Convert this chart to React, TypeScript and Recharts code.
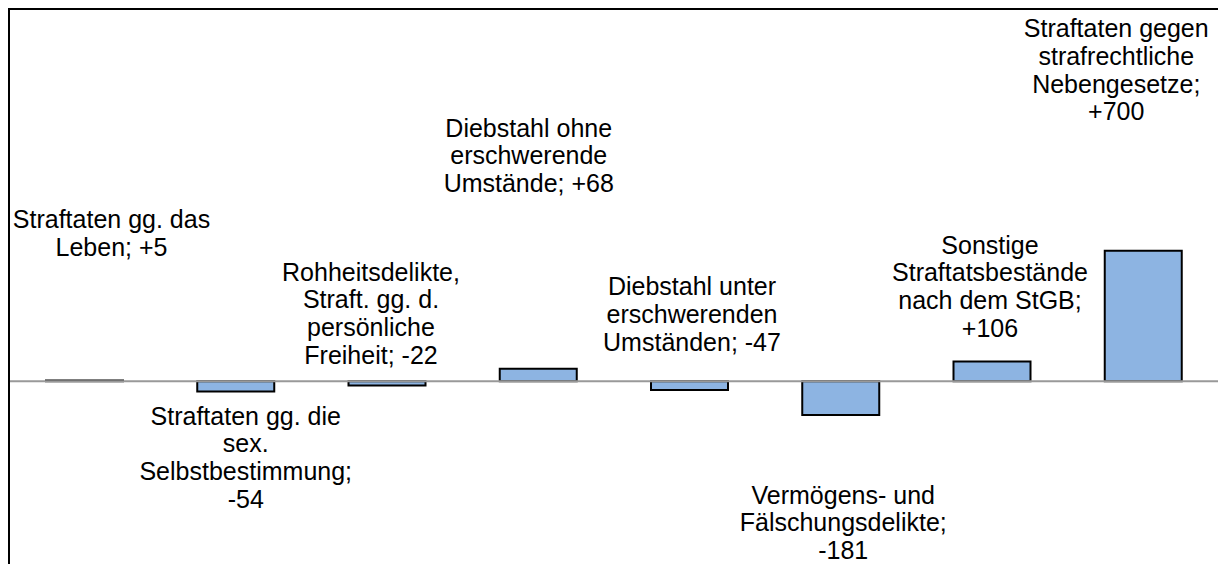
import React from "react";
import { BarChart, Bar, XAxis, YAxis, ReferenceLine, LabelList } from "recharts";

const categories: string[] = [
  "Straftaten gg. das Leben",
  "Straftaten gg. die sex. Selbstbestimmung",
  "Rohheitsdelikte, Straft. gg. d. persönliche Freiheit",
  "Diebstahl ohne erschwerende Umstände",
  "Diebstahl unter erschwerenden Umständen",
  "Vermögens- und Fälschungsdelikte",
  "Sonstige Straftatsbestände nach dem StGB",
  "Straftaten gegen strafrechtliche Nebengesetze",
];

const changes: number[] = [5, -54, -22, 68, -47, -181, 106, 700];

const labelLines: string[][] = [
  ["Straftaten gg. das", "Leben; +5"],
  ["Straftaten gg. die", "sex.", "Selbstbestimmung;", "-54"],
  ["Rohheitsdelikte,", "Straft. gg. d.", "persönliche", "Freiheit; -22"],
  ["Diebstahl ohne", "erschwerende", "Umstände; +68"],
  ["Diebstahl unter", "erschwerenden", "Umständen; -47"],
  ["Vermögens- und", "Fälschungsdelikte;", "-181"],
  ["Sonstige", "Straftatsbestände", "nach dem StGB;", "+106"],
  ["Straftaten gegen", "strafrechtliche", "Nebengesetze;", "+700"],
];

// layout: label offset (dx from bar centre, dy of first baseline from zero line)
const labelLayout: { dx: number; dy: number }[] = [
  { dx: 27, dy: -153 },
  { dx: 10, dy: 43.5 },
  { dx: -16, dy: -100.5 },
  { dx: -9.5, dy: -244.5 },
  { dx: 2.5, dy: -86 },
  { dx: 2.5, dy: 122.5 },
  { dx: -2, dy: -127.5 },
  { dx: -27, dy: -344 },
];

const data = categories.map((c, i) => ({ name: c, value: changes[i] }));

const FONT = "'Liberation Sans', Arial, sans-serif";
const LINE_H = 27.6;

const renderLabel = (props: any) => {
  const { x, y, width, height, index, value } = props;
  const top = Math.min(y, y + height);
  const bottom = Math.max(y, y + height);
  const zeroY = value >= 0 ? bottom : top;
  const cx = x + width / 2 + labelLayout[index].dx;
  const by = zeroY + labelLayout[index].dy;
  return (
    <text
      x={cx}
      y={by}
      textAnchor="middle"
      fontFamily={FONT}
      fontSize={25}
      fill="#000"
    >
      {labelLines[index].map((l, k) => (
        <tspan key={k} x={cx} y={by + k * LINE_H}>
          {l}
        </tspan>
      ))}
    </text>
  );
};

export default function App() {
  return (
    <div
      style={{
        position: "fixed",
        left: 0,
        top: 0,
        width: 1218,
        height: 564,
        overflow: "hidden",
        background: "#fff",
      }}
    >
      <div style={{ position: "absolute", left: 9, top: 0 }}>
        <BarChart
          width={1210}
          height={568}
          data={data}
          margin={{ top: 8, right: 0, bottom: 0, left: 0 }}
          barSize={77}
        >
          <XAxis dataKey="name" hide />
          <YAxis hide domain={[-1000, 2000]} allowDataOverflow />
          <Bar
            dataKey="value"
            fill="#8DB4E2"
            stroke="#000"
            strokeWidth={2}
            isAnimationActive={false}
          />
          <ReferenceLine y={0} stroke="#999999" strokeWidth={2} />
        </BarChart>
      </div>
      <div style={{ position: "absolute", left: 9, top: 0, pointerEvents: "none" }}>
        <BarChart
          width={1210}
          height={568}
          data={data}
          margin={{ top: 8, right: 0, bottom: 0, left: 0 }}
          barSize={77}
        >
          <XAxis dataKey="name" hide />
          <YAxis hide domain={[-1000, 2000]} allowDataOverflow />
          <Bar
            dataKey="value"
            fill="none"
            stroke="none"
            isAnimationActive={false}
          >
            <LabelList dataKey="value" content={renderLabel} />
          </Bar>
        </BarChart>
      </div>
      <div style={{ position: "absolute", left: 8, top: 8, width: 1220, height: 2, background: "#000" }} />
      <div style={{ position: "absolute", left: 8, top: 8, width: 2, height: 560, background: "#000" }} />
    </div>
  );
}
